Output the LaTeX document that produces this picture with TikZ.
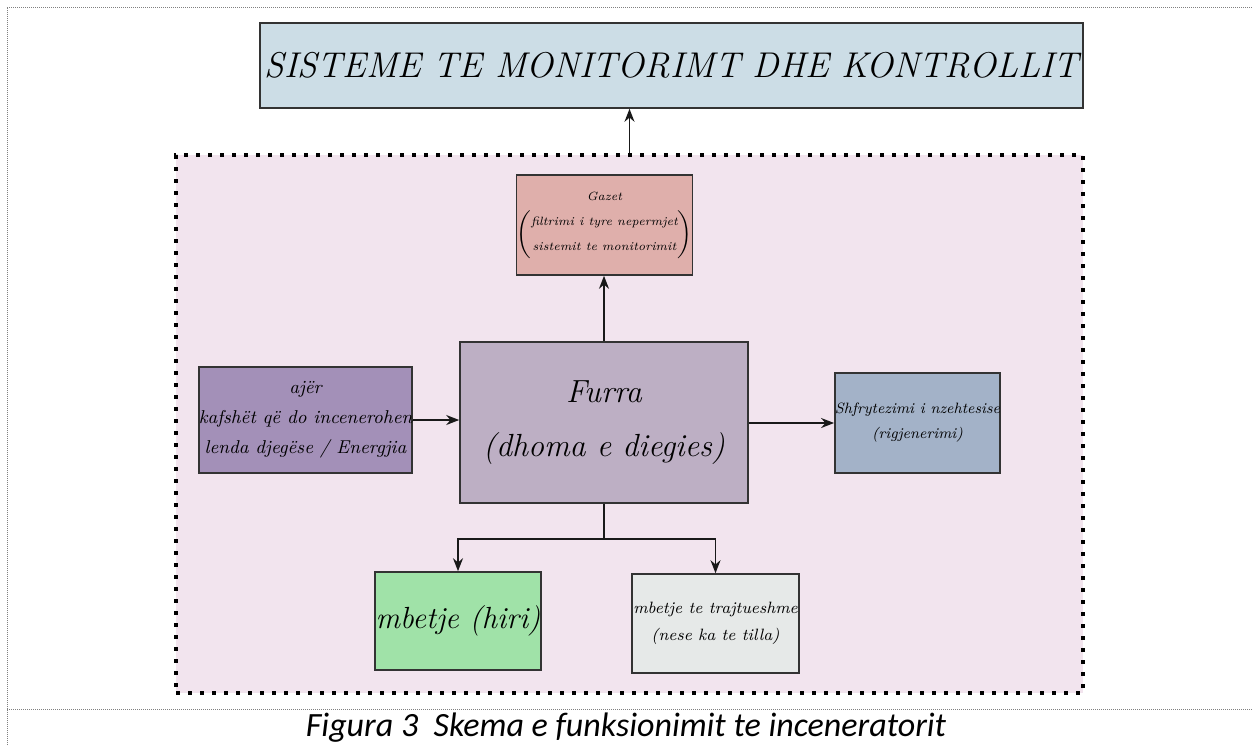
\documentclass[tikz,border=0pt]{standalone}
\usepackage{fontspec}
\newfontfamily\capfont{Carlito}
\usepackage{tikz}
\usetikzlibrary{arrows.meta}

\definecolor{ctrlblue}{RGB}{204,221,230}
\definecolor{zonepink}{RGB}{242,228,238}
\definecolor{gasred}{RGB}{223,175,171}
\definecolor{furnace}{RGB}{189,175,196}
\definecolor{inputviolet}{RGB}{163,144,184}
\definecolor{heatblue}{RGB}{163,178,200}
\definecolor{ashgreen}{RGB}{160,226,168}
\definecolor{restgrey}{RGB}{230,233,232}

\begin{document}
\begin{tikzpicture}[x=0.5pt,y=-0.5pt,
		box/.style={draw=black!80, line width=0.8pt, inner sep=0pt, align=center},
		link/.style={-{Stealth[length=6.5pt,width=5pt]}, line width=0.8pt, black!90},
		frame/.style={gray, line width=0.4pt, dash pattern=on 0.5pt off 0.5pt}]
		\useasboundingbox (0,0) rectangle (1252,745);

		% Outer frame of the table
		\draw[frame] (7,745) -- (7,7) -- (1252,7);
		\draw[frame] (7,709) -- (1252,709);

		% Dotted zone of the incinerator
		\node (zone) [fill=zonepink, draw=black, line width=2pt, dash pattern=on 2pt off 4pt,
			minimum width=453.5pt, minimum height=269pt] at (629.5,424) {};

		% Control system on top
		\node (ctrl) [box, fill=ctrlblue, minimum width=411.5pt, minimum height=42.5pt,
			font=\fontsize{17.9}{21}\selectfont\itshape] at (671.5,65.5) {SISTEME TE MONITORIMT DHE KONTROLLIT};

		% Boxes inside the zone
		\node (gazet) [box, fill=gasred, minimum width=83.5pt, minimum height=50pt,
			font=\fontsize{6}{8}\selectfont] at (604.5,225)
			{\itshape Gazet\\[4pt]
			\setlength{\arraycolsep}{0pt}%
			$\left(\begin{array}{c}\mbox{\itshape filtrimi i tyre nepermjet}\\[4.5pt]
			\mbox{\itshape sistemit te monitorimit}\end{array}\right)$};
		\node (furra) [box, fill=furnace, minimum width=144pt, minimum height=80.5pt,
			font=\fontsize{16}{27}\selectfont\itshape] at (604,422.5) {Furra\\(dhoma e diegies)};
		\node (ajer) [box, fill=inputviolet, minimum width=103.5pt, minimum height=53pt,
			font=\fontsize{9.3}{15}\selectfont\itshape] at (305.5,420)
			{ajër\\kafshët që do incenerohen\\lenda djegëse / Energjia};
		\node (heat) [box, fill=heatblue, minimum width=82.5pt, minimum height=50pt,
			font=\fontsize{7.5}{15}\selectfont\itshape] at (917.5,423)
			{\raisebox{-1.5pt}{Shfrytezimi i nzehtesise}\\[-1pt](rigjenerimi)};
		\node (hiri) [box, fill=ashgreen, minimum width=83pt, minimum height=49pt,
			font=\fontsize{15.3}{18}\selectfont\itshape] at (458,621) {mbetje (hiri)};
		\node (rest) [box, fill=restgrey, minimum width=83.5pt, minimum height=49.5pt,
			font=\fontsize{8.2}{15.5}\selectfont\itshape] at (715.5,623.5)
			{\raisebox{-2pt}{mbetje te trajtueshme}\\(nese ka te tilla)};

		% Split point under the furnace
		\coordinate (split) at (604,539);

		% Connectors
		\draw[link] (zone.north) -- (zone.north |- ctrl.south);
		\draw[link] (furra.north) -- (furra.north |- gazet.south);
		\draw[link] (ajer.east) -- (ajer.east -| furra.west);
		\draw[link] (furra.east |- heat.west) -- (heat.west);
		\draw[line width=0.8pt, black!90] (furra.south) -- (split);
		\draw[link] (split) -| (hiri.north);
		\draw[link] (split) -| (rest.north);

		% Caption
		\node (caption) [font=\fontsize{17}{19}\selectfont\capfont\itshape] at (626,728)
			{Figura 3\ \ Skema e funksionimit te inceneratorit};
	\end{tikzpicture}
\end{document}
